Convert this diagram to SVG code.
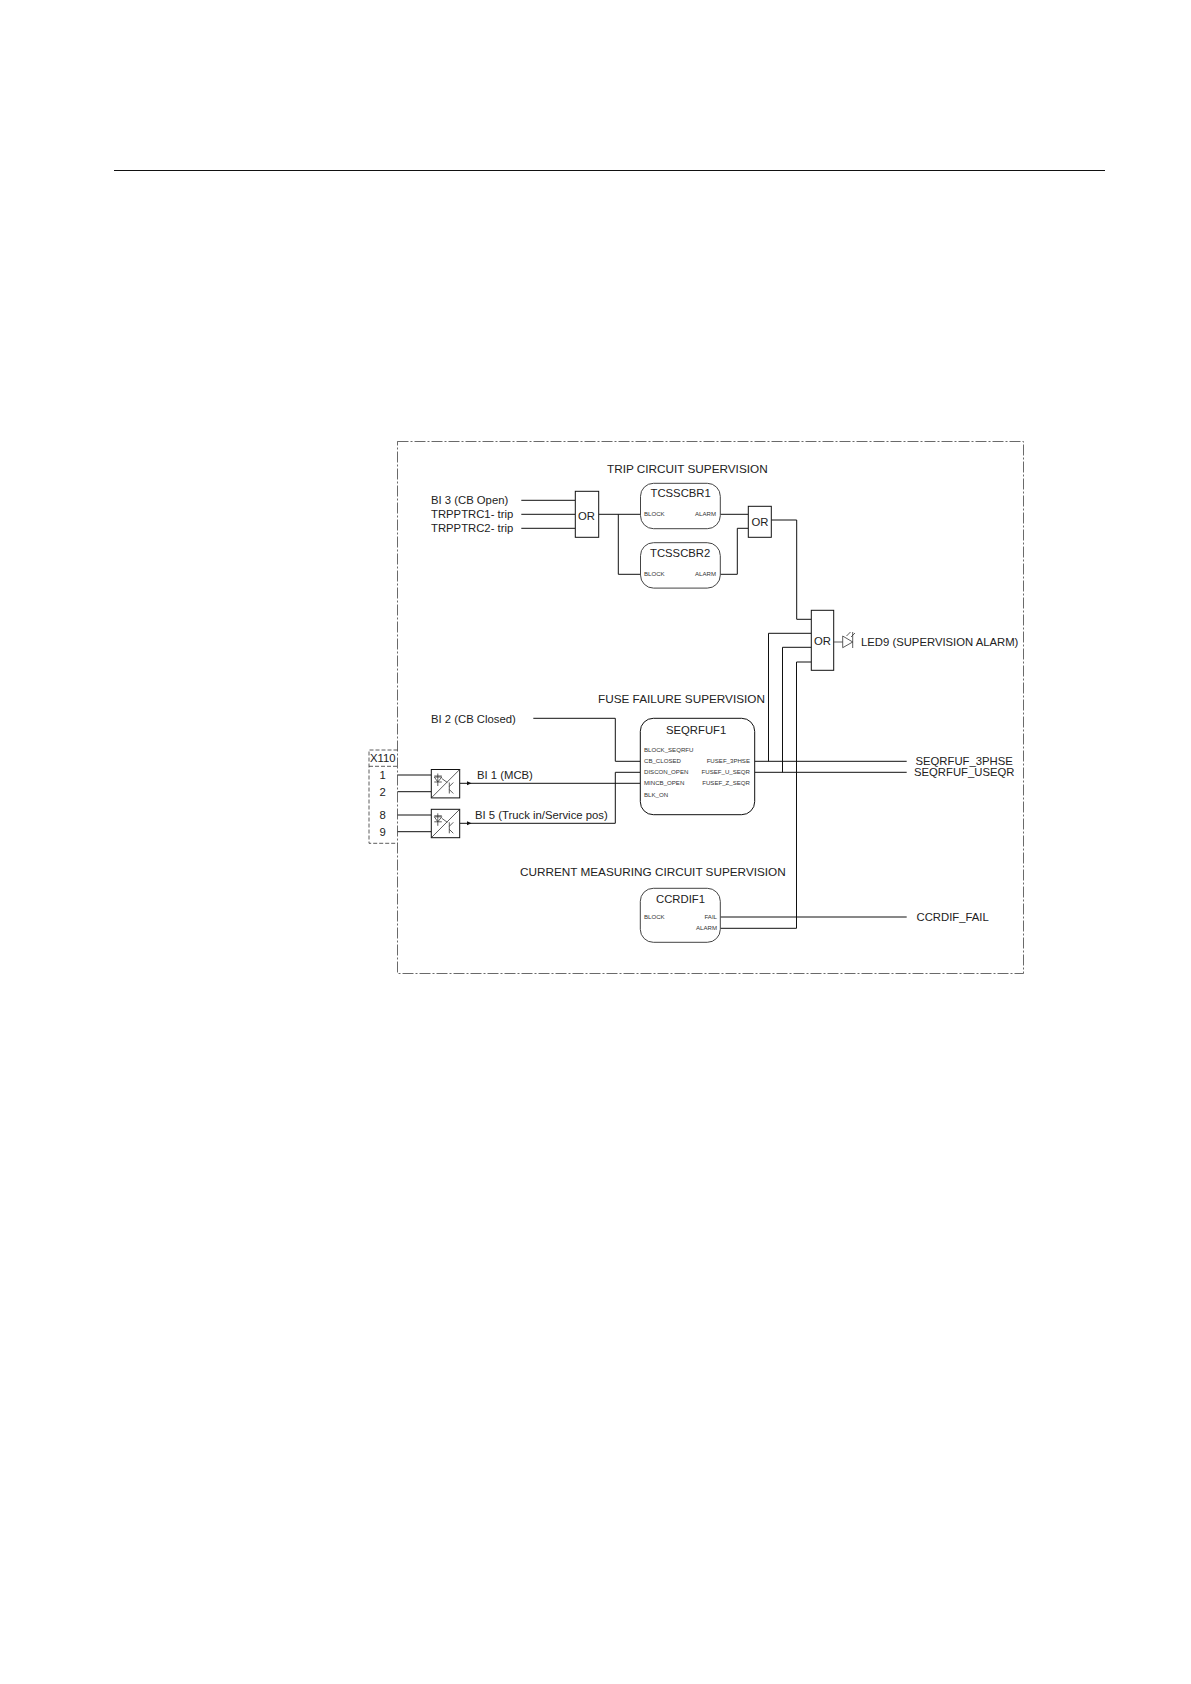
<svg xmlns="http://www.w3.org/2000/svg" width="1191" height="1684" viewBox="0 0 1191 1684">
<style>
text{font-family:"Liberation Sans",Arial,sans-serif;font-size:11.3px;fill:#222}
.h{font-size:11.75px}
.s{font-size:6.1px;fill:#333}
.l{fill:none;stroke:#111;stroke-width:1}
.b{fill:#fff;stroke:#111;stroke-width:1}
.f{fill:#fff;stroke:#444;stroke-width:1}
.d{fill:none;stroke:#444;stroke-width:.8;stroke-dasharray:11 2 2 2}
.e{fill:none;stroke:#333;stroke-width:.8;stroke-dasharray:4 2}
.t{stroke:#333;stroke-width:.8;fill:none}
</style>
<defs>
<g id="opto">
<rect class="b" x="0" y="0" width="28.4" height="28.4"/>
<path class="t" d="M0 28.400L28.400 0M3 6.500h7.500M6.500 4v12.500M3 7.500h7.500L6.500 12.500zM3 12.500h7.500M10.500 9l5.500 4M18 13v11M18 17l4-4M18 20l4 4"/>
</g>
</defs>
<rect width="1191" height="1684" fill="#fff"/>
<line x1="114" y1="170.500" x2="1105" y2="170.500" stroke="#111" stroke-width="1"/>
<rect id="frame" class="d" x="397.500" y="441.500" width="626" height="532"/>
<g id="connectors">
<path class="l" d="M521.300 500.300H575.300M521.300 514.300H575.300M521.300 528.300H575.300"/>
<path class="l" d="M598.700 514.300H640.500M618.300 514.300V574.300H640.500"/>
<path class="l" d="M720.300 514.300H748.300M720.300 574.300H737.300V528.300H748.300"/>
<path class="l" d="M771.300 520H796.700V619.300H811.300"/>
<path class="l" d="M811.300 633.300H768.500V761.300M811.300 647.300H782.500V772.300M811.300 662H796.500V928.300H720.300"/>
<path class="l" d="M754.700 761.300H906.700M754.700 772.300H906.700M720.300 917H906.700"/>
<path class="l" d="M533.300 718.300H615.300V761.300H640.300M640.300 772.300H615.300V823.300H471M471 783.300H640.300"/>
<path class="l" d="M397.700 775H431.300M397.700 791.700H431.300M397.700 815H431.300M397.700 831.700H431.300"/>
<path class="l" d="M459.700 783.300H471M459.700 823.300H471"/>
<path fill="#111" d="M467 781.300l4.500 2-4.500 2zM467 821.300l4.500 2-4.500 2z"/>
</g>
<g id="or1"><rect class="b" x="575.300" y="491.300" width="23.400" height="46"/><text x="578" y="519.500">OR</text></g>
<g id="or2"><rect class="b" x="748.300" y="506.300" width="23" height="31"/><text x="751.500" y="526">OR</text></g>
<g id="or3"><rect class="b" x="811.300" y="610.300" width="22.400" height="60"/><text x="814" y="645">OR</text></g>
<g id="tcsscbr1"><rect class="f" x="640.500" y="483.300" width="79.800" height="45.400" rx="13"/><text x="650.500" y="497">TCSSCBR1</text><text class="s" x="644" y="516">BLOCK</text><text class="s" x="716" y="516" text-anchor="end">ALARM</text></g>
<g id="tcsscbr2"><rect class="f" x="640.500" y="542.700" width="79.800" height="45.400" rx="13"/><text x="650" y="556.500">TCSSCBR2</text><text class="s" x="644" y="575.500">BLOCK</text><text class="s" x="716" y="575.500" text-anchor="end">ALARM</text></g>
<g id="seqrfuf1"><rect class="b" x="640.300" y="718.300" width="114.400" height="96.400" rx="13"/><text x="666" y="734">SEQRFUF1</text>
<text class="s" x="644" y="751.500">BLOCK_SEQRFU</text><text class="s" x="644" y="763">CB_CLOSED</text><text class="s" x="644" y="774">DISCON_OPEN</text><text class="s" x="644" y="785">MINCB_OPEN</text><text class="s" x="644" y="796.500">BLK_ON</text>
<text class="s" x="750" y="763" text-anchor="end">FUSEF_3PHSE</text><text class="s" x="750" y="774" text-anchor="end">FUSEF_U_SEQR</text><text class="s" x="750" y="785" text-anchor="end">FUSEF_Z_SEQR</text></g>
<g id="ccrdif1"><rect class="f" x="640.300" y="888.300" width="80" height="54" rx="13"/><text x="656" y="903">CCRDIF1</text><text class="s" x="644" y="918.500">BLOCK</text><text class="s" x="717" y="918.500" text-anchor="end">FAIL</text><text class="s" x="717" y="929.500" text-anchor="end">ALARM</text></g>
<g id="opto1"><use href="#opto" x="431.300" y="769.500"/></g>
<g id="opto2"><use href="#opto" x="431.300" y="809.300"/></g>
<g id="x110"><path class="e" d="M397.500 750H369V843.300H397.500M369 766.300H397.500"/><text x="370" y="762">X110</text><text x="379.500" y="779">1</text><text x="379.500" y="796">2</text><text x="379.500" y="819">8</text><text x="379.500" y="836">9</text></g>
<g id="led"><path class="t" d="M833.700 642H842.700M842.700 636V647.700L852.700 642ZM852.700 632V648M846.500 636l4-4M851 637l4-4"/></g>
<g id="labels">
<text class="h" x="607" y="473">TRIP CIRCUIT SUPERVISION</text>
<text class="h" x="598" y="703">FUSE FAILURE SUPERVISION</text>
<text class="h" x="520" y="875.500">CURRENT MEASURING CIRCUIT SUPERVISION</text>
<text x="431" y="504">BI 3 (CB Open)</text>
<text x="431" y="518">TRPPTRC1- trip</text>
<text x="431" y="532">TRPPTRC2- trip</text>
<text x="431" y="723">BI 2 (CB Closed)</text>
<text x="477" y="779">BI 1 (MCB)</text>
<text x="475" y="819">BI 5 (Truck in/Service pos)</text>
<text x="861" y="646">LED9 (SUPERVISION ALARM)</text>
<text x="915.500" y="765">SEQRFUF_3PHSE</text>
<text x="914" y="776">SEQRFUF_USEQR</text>
<text x="916.500" y="921">CCRDIF_FAIL</text>
</g>
</svg>
